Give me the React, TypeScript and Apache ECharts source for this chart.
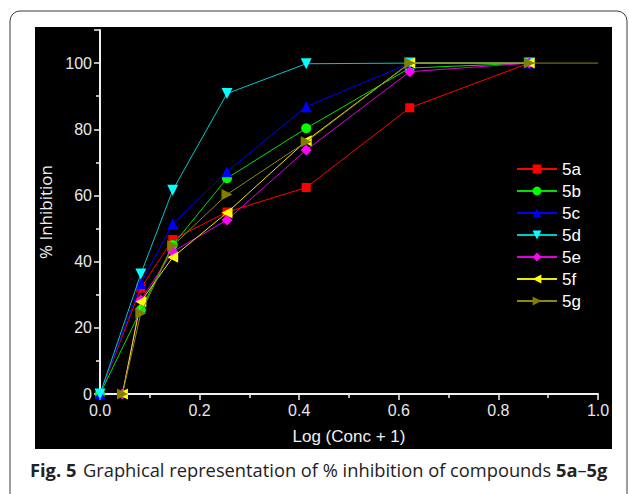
import React, { useEffect, useRef } from "react";
import * as echarts from "echarts";

const xValues = [0, 0.045, 0.082, 0.146, 0.255, 0.414, 0.622, 0.862, 1.0];
// null = series has no point at that x
const s5a = [0, null, 32, 46.7, 55, 62.4, 86.5, 100];
const s5b = [0, null, 25.4, 45, 65.2, 80.3, 98.5, 100];
const s5c = [0, null, 33.4, 51.4, 67.2, 86.8, 100, 100];
const s5d = [0, null, 36.3, 61.6, 90.8, 99.8, 100, 100];
const s5e = [null, 0, 28.4, 43, 52.6, 73.7, 97.4, 100];
const s5f = [null, 0, 27.9, 41.3, 54.8, 76.5, 100, 100];
const s5g = [null, 0, 24.4, 44.8, 60.3, 76.2, 100, 100, 100];

const names = ["5a", "5b", "5c", "5d", "5e", "5f", "5g"];
const values = [s5a, s5b, s5c, s5d, s5e, s5f, s5g];
const symbolColors = ["#ff0000", "#00ff00", "#0000ff", "#00ffff", "#ff00ff", "#ffff00", "#808000"];
const lineColors = ["#ff0000", "#00e000", "#0000ff", "#00c8c8", "#e000e0", "#e8e800", "#8a8a10"];
const symbols = ["rect", "circle", "triangle", "triangle", "diamond", "triangle", "triangle"];
const rotations = [0, 0, 0, 180, 0, 90, -90];
const sizes = [9, 10, 11, 11, 11, 11, 11];

export default function App() {
  const ref = useRef<HTMLDivElement>(null);
  useEffect(() => {
    if (!ref.current) return;
    const chart = echarts.init(ref.current, null, { renderer: "svg" });
    const series = names.map((n, i) => {
      const data: any[] = [];
      values[i].forEach((v, j) => {
        if (v === null) return;
        const item: any = { value: [xValues[j], v] };
        if (j === 8) item.symbol = "none";
        data.push(item);
      });
      return {
        name: n,
        type: "line",
        data,
        symbol: symbols[i],
        symbolRotate: rotations[i],
        symbolSize: sizes[i],
        itemStyle: { color: symbolColors[i] },
        lineStyle: { color: lineColors[i], width: 1 },
        z: 3 + i,
      };
    });
    chart.setOption({
      animation: false,
      backgroundColor: "#ffffff",
      graphic: [
        {
          type: "rect",
          z: -10,
          shape: { x: 10, y: 11, width: 617, height: 600, r: 10 },
          style: { fill: "#ffffff", stroke: "#3a3a3a", lineWidth: 1 },
          silent: true,
        },
        {
          type: "rect",
          z: -9,
          shape: { x: 35, y: 27, width: 577, height: 422 },
          style: { fill: "#000000" },
          silent: true,
        },
        {
          type: "text",
          x: 30,
          y: 469,
          style: {
            text: "{b|Fig. 5}  {n|Graphical representation of % inhibition of compounds }{b|5a}{n|–}{b|5g}",
            verticalAlign: "middle",
            rich: {
              b: { fontFamily: "Open Sans", fontWeight: "bold", fontSize: 18.3, fill: "#222222" },
              n: { fontFamily: "Open Sans", fontSize: 18.3, fill: "#222222" },
            },
          },
        },
      ],
      grid: { left: 100, right: 31, top: 30, bottom: 100, containLabel: false },
      legend: {
        orient: "vertical",
        left: 511,
        top: 155,
        itemWidth: 40,
        itemHeight: 11,
        itemGap: 4,
        data: names,
        textStyle: { color: "#ffffff", fontSize: 17, fontFamily: "Liberation Sans", lineHeight: 18 },
      },
      xAxis: {
        type: "value",
        min: 0,
        max: 1,
        interval: 0.2,
        name: "Log (Conc + 1)",
        nameLocation: "middle",
        nameGap: 34,
        nameTextStyle: { color: "#f0f0f0", fontSize: 17, fontFamily: "Liberation Sans" },
        axisLine: { lineStyle: { color: "#f0f0f0", width: 2 } },
        axisTick: { show: true, length: 6, lineStyle: { color: "#f0f0f0", width: 1.5 } },
        minorTick: { show: true, splitNumber: 2, length: 4, lineStyle: { color: "#f0f0f0", width: 1.5 } },
        axisLabel: {
          color: "#e8e8e8",
          fontSize: 16,
          fontFamily: "Liberation Sans",
          margin: 8,
          formatter: (v: number) => v.toFixed(1),
        },
        splitLine: { show: false },
      },
      yAxis: {
        type: "value",
        min: 0,
        max: 110,
        interval: 20,
        name: "% Inhibition",
        nameLocation: "middle",
        nameGap: 46,
        nameRotate: 90,
        nameTextStyle: { color: "#f0f0f0", fontSize: 17, fontFamily: "Open Sans" },
        axisLine: { lineStyle: { color: "#f0f0f0", width: 2 } },
        axisTick: { show: true, length: 6, lineStyle: { color: "#f0f0f0", width: 1.5 } },
        minorTick: { show: true, splitNumber: 2, length: 4, lineStyle: { color: "#f0f0f0", width: 1.5 } },
        axisLabel: {
          color: "#e8e8e8",
          fontSize: 16,
          fontFamily: "Liberation Sans",
          margin: 8,
          showMaxLabel: false,
        },
        splitLine: { show: false },
      },
      series,
    });
    return () => chart.dispose();
  }, []);
  return (
    <div
      ref={ref}
      style={{ position: "fixed", left: 0, top: 0, width: 629, height: 494 }}
    />
  );
}
